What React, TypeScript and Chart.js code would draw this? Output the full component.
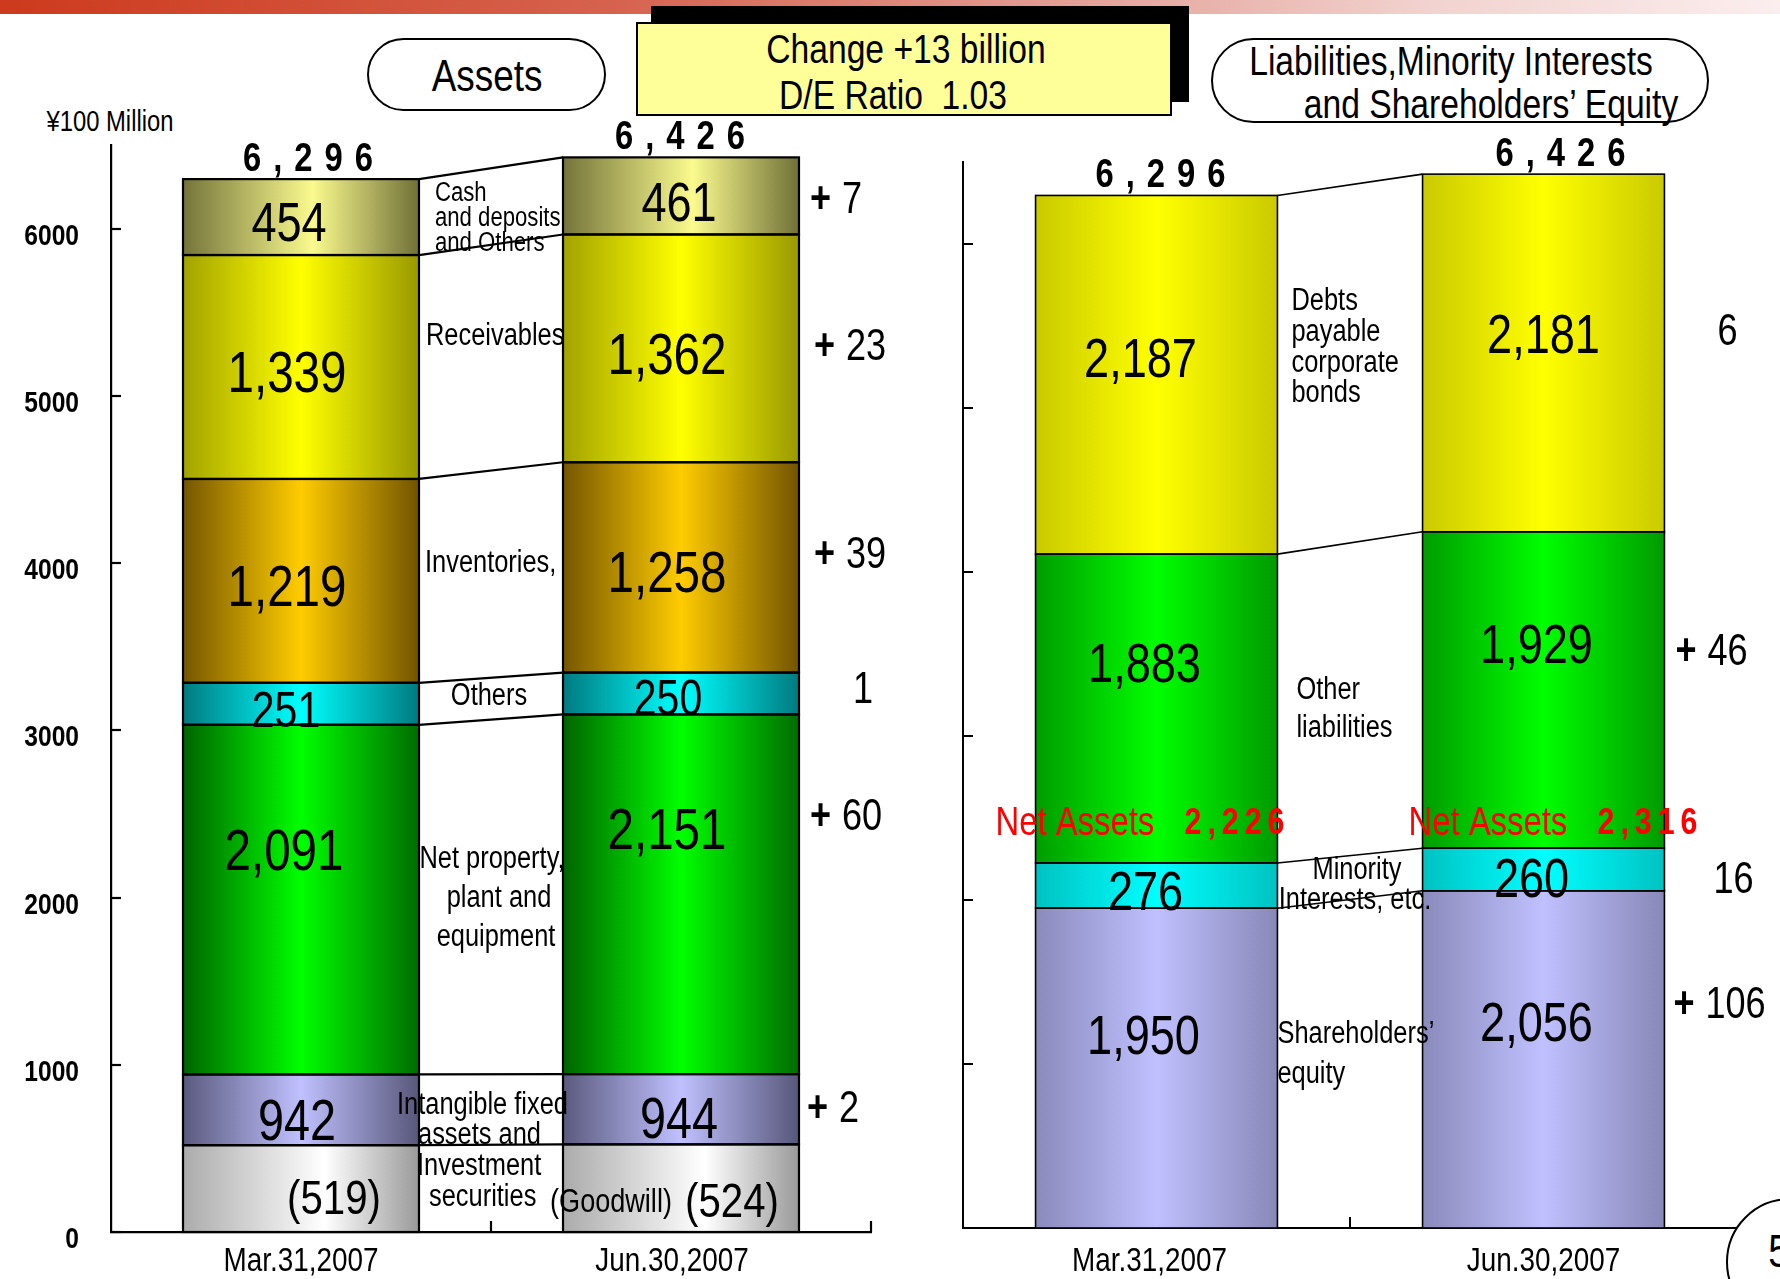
import React, { useEffect, useRef } from "react";
import { Chart, registerables } from "chart.js";

Chart.register(...registerables);

const FONT = '"Liberation Sans", Arial, sans-serif';
const SX = 0.82; // horizontal squeeze giving an Arial-Narrow look

// ---------------- data ----------------
const dates = ["Mar.31,2007", "Jun.30,2007"];
const yTicks = [0, 1000, 2000, 3000, 4000, 5000, 6000];
const yMax = 6500;

// Assets (bottom -> top), ¥100 million
const goodwill = [519, 524];
const intangibleAndInvestments = [942, 944]; // includes goodwill
const netPPE = [2091, 2151];
const otherAssets = [251, 250];
const inventories = [1219, 1258];
const receivables = [1339, 1362];
const cashAndOthers = [454, 461];

// Liabilities, minority interests and equity (bottom -> top)
const shareholdersEquity = [1950, 2056];
const minorityInterests = [276, 260];
const otherLiabilities = [1883, 1929];
const debtsAndBonds = [2187, 2181];

const changeText = "Change +13 billion";
const deRatioText = "D/E Ratio  1.03";
const unitText = "¥100 Million";

// ---------------- helpers ----------------
const fmt = (v: number) => v.toLocaleString("en-US");

type Note = { t: string; ref: "L" | "M" | "R"; dx: number; dy: number; align: CanvasTextAlign; size: number };
type Seg = {
  name: string;
  data: number[];
  text: string[];
  grad: [string, string, string];
  peak?: number;
  size: number;
  bold?: boolean;
  dx: number[];
  dy: number[];
  change?: { dx: number; dy: number; of?: number[] };
  notes?: Note[];
  noteFrom?: number;
};
type Panel = {
  segs: Seg[];
  catPct: number;
  lineW: number;
  axisW: number;
  pad: { left: number; right: number; top: number; bottom: number };
  yAxisW: number;
  xAxisH: number;
  xLabelDy: number;
  xLabelDx: number[];
  yLabels: boolean;
  endTick: boolean;
  totalDx: number[];
  net?: { values: number[]; dx: number[]; dy: number[] };
};

const assetPanel: Panel = {
  catPct: 0.621,
  lineW: 2.2,
  axisW: 2.2,
  pad: { left: 11, right: 909, top: 145, bottom: 0 },
  yAxisW: 100,
  xAxisH: 47,
  xLabelDy: 30,
  xLabelDx: [0, -9],
  yLabels: true,
  endTick: true,
  totalDx: [7, -1],
  segs: [
    {
      name: "Goodwill",
      data: goodwill,
      text: goodwill.map((v) => `(${v})`),
      grad: ["#ababab", "#ffffff", "#9a9a9a"],
      peak: 0.6,
      size: 49,
      dx: [33, 51],
      dy: [12, 15],
      notes: [{ t: "(Goodwill)", ref: "R", dx: 48, dy: 15, align: "center", size: 33 }],
    },
    {
      name: "Intangible fixed assets and Investment securities",
      data: intangibleAndInvestments.map((v, i) => v - goodwill[i]),
      text: intangibleAndInvestments.map(fmt),
      grad: ["#5a5a7e", "#c0c0ff", "#57577a"],
      peak: 0.5,
      size: 57,
      dx: [-4, -2],
      dy: [14, 13],
      change: { dx: 8, dy: 1, of: intangibleAndInvestments },
      noteFrom: 0,
      notes: [
        { t: "Intangible fixed", ref: "L", dx: -22, dy: -48, align: "left", size: 31 },
        { t: "assets and", ref: "L", dx: -1, dy: -18, align: "left", size: 31 },
        { t: "Investment", ref: "L", dx: -2, dy: 13, align: "left", size: 31 },
        { t: "securities", ref: "L", dx: 10, dy: 44, align: "left", size: 31 },
      ],
    },
    {
      name: "Net property, plant and equipment",
      data: netPPE,
      text: netPPE.map(fmt),
      grad: ["#006400", "#00ff00", "#006c00"],
      size: 58,
      dx: [-17, -14],
      dy: [-46, -61],
      change: { dx: 11, dy: -76 },
      notes: [
        { t: "Net property,", ref: "M", dx: 1, dy: -38, align: "center", size: 31 },
        { t: "plant and", ref: "M", dx: 8, dy: 1, align: "center", size: 31 },
        { t: "equipment", ref: "M", dx: 5, dy: 40, align: "center", size: 31 },
      ],
    },
    {
      name: "Others",
      data: otherAssets,
      text: otherAssets.map(fmt),
      grad: ["#007a80", "#00ffff", "#007a80"],
      size: 50,
      dx: [-15, -13],
      dy: [9, 8],
      change: { dx: 54, dy: -3 },
      notes: [{ t: "Others", ref: "M", dx: -2, dy: -2, align: "center", size: 31 }],
    },
    {
      name: "Inventories",
      data: inventories,
      text: inventories.map(fmt),
      grad: ["#745600", "#ffcc00", "#725400"],
      size: 58,
      dx: [-14, -14],
      dy: [9, 9],
      change: { dx: 15, dy: -12 },
      notes: [{ t: "Inventories,", ref: "L", dx: 6, dy: -11, align: "left", size: 31 }],
    },
    {
      name: "Receivables",
      data: receivables,
      text: receivables.map(fmt),
      grad: ["#a2a200", "#ffff00", "#999900"],
      size: 58,
      dx: [-14, -14],
      dy: [9, 10],
      change: { dx: 15, dy: 0 },
      notes: [{ t: "Receivables", ref: "L", dx: 7, dy: -21, align: "left", size: 31 }],
    },
    {
      name: "Cash and deposits and Others",
      data: cashAndOthers,
      text: cashAndOthers.map(fmt),
      grad: ["#74743a", "#fafa8e", "#707038"],
      peak: 0.55,
      size: 55,
      dx: [-12, -2],
      dy: [9, 10],
      change: { dx: 11, dy: 5 },
      notes: [
        { t: "Cash", ref: "L", dx: 16, dy: -13, align: "left", size: 27 },
        { t: "and deposits", ref: "L", dx: 16, dy: 12, align: "left", size: 27 },
        { t: "and Others", ref: "L", dx: 16, dy: 37, align: "left", size: 27 },
      ],
    },
  ],
};

const liabPanel: Panel = {
  catPct: 0.625,
  lineW: 1.6,
  axisW: 2,
  pad: { left: 943, right: 43, top: 162, bottom: 0 },
  yAxisW: 20,
  xAxisH: 51,
  xLabelDy: 34,
  xLabelDx: [-7, 0],
  yLabels: false,
  endTick: false,
  totalDx: [4, 17],
  net: {
    values: shareholdersEquity.map((v, i) => v + minorityInterests[i]),
    dx: [-40, -14],
    dy: [-39, -24],
  },
  segs: [
    {
      name: "Shareholders' equity",
      data: shareholdersEquity,
      text: shareholdersEquity.map(fmt),
      grad: ["#8a8abc", "#c0c0ff", "#8888b8"],
      size: 55,
      dx: [-13, -7],
      dy: [-29, -34],
      change: { dx: 9, dy: -54 },
      notes: [
        { t: "Shareholders’", ref: "L", dx: 0, dy: -29, align: "left", size: 31 },
        { t: "equity", ref: "L", dx: 0, dy: 11, align: "left", size: 31 },
      ],
    },
    {
      name: "Minority Interests, etc.",
      data: minorityInterests,
      text: minorityInterests.map(fmt),
      grad: ["#00c2c2", "#00ffff", "#00c2c2"],
      size: 55,
      bold: false,
      dx: [-11, -12],
      dy: [9, 12],
      change: { dx: 49, dy: 11 },
      notes: [
        { t: "Minority", ref: "M", dx: 7, dy: -7, align: "center", size: 31 },
        { t: "Interests, etc.", ref: "M", dx: 5, dy: 23, align: "center", size: 31 },
      ],
    },
    {
      name: "Other liabilities",
      data: otherLiabilities,
      text: otherLiabilities.map(fmt),
      grad: ["#009c00", "#00ff00", "#009a00"],
      size: 55,
      dx: [-12, -7],
      dy: [-42, -42],
      change: { dx: 11, dy: -37 },
      notes: [
        { t: "Other", ref: "L", dx: 19, dy: -9, align: "left", size: 31 },
        { t: "liabilities", ref: "L", dx: 19, dy: 29, align: "left", size: 31 },
      ],
    },
    {
      name: "Debts payable corporate bonds",
      data: debtsAndBonds,
      text: debtsAndBonds.map(fmt),
      grad: ["#caca00", "#ffff00", "#caca00"],
      size: 55,
      dx: [-16, 0],
      dy: [-13, -15],
      change: { dx: 53, dy: -20 },
      notes: [
        { t: "Debts", ref: "L", dx: 14, dy: -62, align: "left", size: 31 },
        { t: "payable", ref: "L", dx: 14, dy: -31, align: "left", size: 31 },
        { t: "corporate", ref: "L", dx: 14, dy: 0, align: "left", size: 31 },
        { t: "bonds", ref: "L", dx: 14, dy: 30, align: "left", size: 31 },
      ],
    },
  ],
};

function text(
  ctx: CanvasRenderingContext2D,
  s: string,
  x: number,
  y: number,
  size: number,
  o: { bold?: boolean; align?: CanvasTextAlign; color?: string; spacing?: number } = {}
) {
  ctx.save();
  ctx.font = `${o.bold ? "bold " : ""}${size}px ${FONT}`;
  ctx.fillStyle = o.color ?? "#000";
  ctx.textAlign = o.align ?? "center";
  ctx.textBaseline = "middle";
  if (o.spacing) {
    (ctx as any).letterSpacing = `${o.spacing / SX}px`;
    if ((o.align ?? "center") === "center") x += o.spacing / 2;
  }
  ctx.translate(x, y);
  ctx.scale(SX, 1);
  ctx.fillText(s, 0, 0);
  ctx.restore();
}

// change marker: bold "+" followed by the amount (decreases shown as plain amount)
function changeLabel(ctx: CanvasRenderingContext2D, a: number[], x: number, y: number) {
  const d = a[1] - a[0];
  if (d > 0) {
    text(ctx, "+", x, y, 44, { bold: true, align: "left" });
    text(ctx, String(d), x + 32, y, 44, { align: "left" });
  } else {
    text(ctx, String(Math.abs(d)), x, y, 44, { align: "left" });
  }
}

function gradFor(seg: Seg, catPct: number) {
  return (c: any) => {
    const chart = c.chart;
    const xs = chart.scales?.x;
    if (c.dataIndex === undefined || !xs || !chart.chartArea) return seg.grad[1];
    const cx = xs.getPixelForValue(c.dataIndex);
    const half = ((xs.right - xs.left) / dates.length) * catPct / 2;
    const g = chart.ctx.createLinearGradient(cx - half, 0, cx + half, 0);
    g.addColorStop(0, seg.grad[0]);
    g.addColorStop(seg.peak ?? 0.5, seg.grad[1]);
    g.addColorStop(1, seg.grad[2]);
    return g;
  };
}

function drawDeco(chart: any, p: Panel) {
  const ctx: CanvasRenderingContext2D = chart.ctx;
  const xs = chart.scales.x;
  const ys = chart.scales.y;
  const els = p.segs.map((_, i) => chart.getDatasetMeta(i).data);
  const geo = (si: number, j: number) => {
    const el = els[si][j];
    const w = el.width;
    return { l: el.x - w / 2, r: el.x + w / 2, t: el.y, b: el.base, cx: el.x, cy: (el.y + el.base) / 2 };
  };

  ctx.save();
  ctx.strokeStyle = "#000";
  ctx.lineWidth = p.axisW;
  // inward y ticks (+ labels)
  yTicks.forEach((v) => {
    const py = Math.round(ys.getPixelForValue(v));
    ctx.beginPath();
    ctx.moveTo(xs.left, py);
    ctx.lineTo(xs.left + 10, py);
    ctx.stroke();
    if (p.yLabels) text(ctx, String(v), xs.left - 32, py + 8, 30, { bold: true, align: "right" });
  });
  // x category labels
  (chart.data.labels as string[]).forEach((lab, j) => {
    text(ctx, lab, xs.getPixelForValue(j) + p.xLabelDx[j], ys.bottom + p.xLabelDy, 34);
  });
  // small x ticks
  const mid = (xs.getPixelForValue(0) + xs.getPixelForValue(1)) / 2;
  const xt = p.endTick ? [mid, xs.right] : [mid];
  ctx.strokeStyle = "#000";
  ctx.lineWidth = p.axisW;
  xt.forEach((px) => {
    ctx.beginPath();
    ctx.moveTo(px, ys.bottom);
    ctx.lineTo(px, ys.bottom - 11);
    ctx.stroke();
  });

  // bar outlines and connectors
  ctx.lineWidth = p.lineW;
  p.segs.forEach((_, si) =>
    dates.forEach((__, j) => {
      const g = geo(si, j);
      ctx.strokeRect(g.l, g.t, g.r - g.l, g.b - g.t);
    })
  );
  p.segs.forEach((_, si) => {
    const a = geo(si, 0);
    const b = geo(si, 1);
    ctx.beginPath();
    ctx.moveTo(a.r, a.t);
    ctx.lineTo(b.l, b.t);
    ctx.stroke();
  });
  ctx.restore();

  // value labels, change labels, notes
  p.segs.forEach((s, si) => {
    dates.forEach((_, j) => {
      const g = geo(si, j);
      text(ctx, s.text[j], g.cx + s.dx[j], g.cy + s.dy[j], s.size, { bold: s.bold });
    });
    if (s.change) {
      const g = geo(si, 1);
      changeLabel(ctx, s.change.of ?? s.data, g.r + s.change.dx, g.cy + s.change.dy);
    }
    if (s.notes) {
      const from = s.noteFrom ?? si;
      const ay = (geo(from, 0).b + geo(si, 0).t + geo(from, 1).b + geo(si, 1).t) / 4;
      const L = geo(si, 0).r;
      const R = geo(si, 1).l;
      const M = (L + R) / 2;
      s.notes.forEach((n) => {
        const rx = n.ref === "L" ? L : n.ref === "R" ? R : M;
        text(ctx, n.t, rx + n.dx, ay + n.dy, n.size, { align: n.align });
      });
    }
  });

  // totals
  const last = p.segs.length - 1;
  dates.forEach((_, j) => {
    const total = p.segs.reduce((acc, s) => acc + s.data[j], 0);
    const g = geo(last, j);
    text(ctx, fmt(total), g.cx + p.totalDx[j], g.t - 19, 40, { bold: true, spacing: 12 });
  });

  // net assets
  if (p.net) {
    const net = p.net;
    dates.forEach((_, j) => {
      const x = geo(0, j).l + net.dx[j];
      const y = ys.getPixelForValue(net.values[j]) + net.dy[j];
      text(ctx, "Net Assets", x, y, 40, { align: "left", color: "#ff0000" });
      text(ctx, fmt(net.values[j]), x + 189, y, 37, { align: "left", color: "#ff0000", bold: true, spacing: 6 });
    });
  }
}

function buildChart(canvas: HTMLCanvasElement, p: Panel) {
  const datasets = p.segs.map((s) => ({
    label: s.name,
    data: s.data,
    backgroundColor: gradFor(s, p.catPct),
    borderWidth: 0,
    categoryPercentage: p.catPct,
    barPercentage: 1,
  }));
  return new Chart(canvas, {
    type: "bar",
    data: { labels: dates, datasets },
    options: {
      responsive: false,
      maintainAspectRatio: false,
      animation: false,
      devicePixelRatio: 1,
      layout: { autoPadding: false, padding: p.pad },
      plugins: { legend: { display: false }, tooltip: { enabled: false }, title: { display: false } },
      scales: {
        x: {
          stacked: true,
          grid: { display: false, drawTicks: false },
          border: { display: true, color: "#000", width: p.axisW },
          ticks: { display: false },
          afterFit: (s: any) => {
            s.height = p.xAxisH;
          },
        },
        y: {
          stacked: true,
          min: 0,
          max: yMax,
          grid: { display: false, drawTicks: false },
          border: { display: true, color: "#000", width: p.axisW },
          ticks: { display: false },
          afterBuildTicks: (s: any) => {
            s.ticks = yTicks.map((v) => ({ value: v }));
          },
          afterFit: (s: any) => {
            s.width = p.yAxisW;
          },
        },
      },
    } as any,
    plugins: [{ id: "deco", afterDatasetsDraw: (chart: any) => drawDeco(chart, p) }],
  });
}

const centered = (x: number, y: number, size: number, extra: React.CSSProperties = {}): React.CSSProperties => ({
  position: "absolute",
  left: x,
  top: y,
  transform: `translate(-50%, -50%) scaleX(${SX})`,
  fontSize: size,
  lineHeight: 1,
  whiteSpace: "pre",
  color: "#000",
  ...extra,
});

export default function App() {
  const leftRef = useRef<HTMLCanvasElement>(null);
  const rightRef = useRef<HTMLCanvasElement>(null);

  useEffect(() => {
    const a = buildChart(leftRef.current!, assetPanel);
    const b = buildChart(rightRef.current!, liabPanel);
    return () => {
      a.destroy();
      b.destroy();
    };
  }, []);

  const canvasStyle: React.CSSProperties = { position: "absolute", left: 0, top: 0, width: 1780, height: 1279 };

  return (
    <div
      style={{
        position: "absolute",
        left: 0,
        top: 0,
        width: 1780,
        height: 1279,
        overflow: "hidden",
        background: "#fff",
        fontFamily: FONT,
      }}
    >
      <div
        style={{
          position: "absolute",
          left: 0,
          top: 0,
          width: 1780,
          height: 14,
          background: "linear-gradient(to right, #cd3a1d 0%, #d6634f 35%, #e29a90 58%, #f1d2ce 80%, #fbeeee 100%)",
        }}
      />
      {/* change box */}
      <div style={{ position: "absolute", left: 651, top: 6, width: 538, height: 96, background: "#000" }} />
      <div
        style={{
          position: "absolute",
          left: 636,
          top: 22,
          width: 536,
          height: 94,
          background: "#ffff99",
          border: "2px solid #000",
          boxSizing: "border-box",
        }}
      >
        <div style={centered(268, 25, 41)}>{changeText}</div>
        <div style={centered(255, 71, 41)}>{deRatioText}</div>
      </div>
      {/* Assets pill */}
      <div
        style={{
          position: "absolute",
          left: 367,
          top: 38,
          width: 239,
          height: 73,
          border: "2px solid #000",
          borderRadius: 37,
          boxSizing: "border-box",
          background: "#fff",
        }}
      >
        <div style={centered(118, 35, 45)}>Assets</div>
      </div>
      {/* Liabilities pill */}
      <div
        style={{
          position: "absolute",
          left: 1211,
          top: 38,
          width: 498,
          height: 85,
          border: "2px solid #000",
          borderRadius: 43,
          boxSizing: "border-box",
          background: "#fff",
        }}
      >
        <div style={centered(238, 21, 41)}>Liabilities,Minority Interests</div>
        <div style={centered(278, 64, 41)}>and Shareholders’ Equity</div>
      </div>
      <div style={centered(110, 121, 29)}>{unitText}</div>

      <canvas ref={leftRef} width={1780} height={1279} style={canvasStyle} />
      <canvas ref={rightRef} width={1780} height={1279} style={canvasStyle} />

      {/* page number */}
      <div
        style={{
          position: "absolute",
          left: 1726,
          top: 1198,
          width: 128,
          height: 128,
          borderRadius: "50%",
          border: "2px solid #000",
          boxSizing: "border-box",
          background: "#fff",
        }}
      >
        <div style={{ position: "absolute", left: 38, top: 28, fontSize: 46, lineHeight: 1, transform: `scaleX(${SX})` }}>
          5
        </div>
      </div>
    </div>
  );
}
